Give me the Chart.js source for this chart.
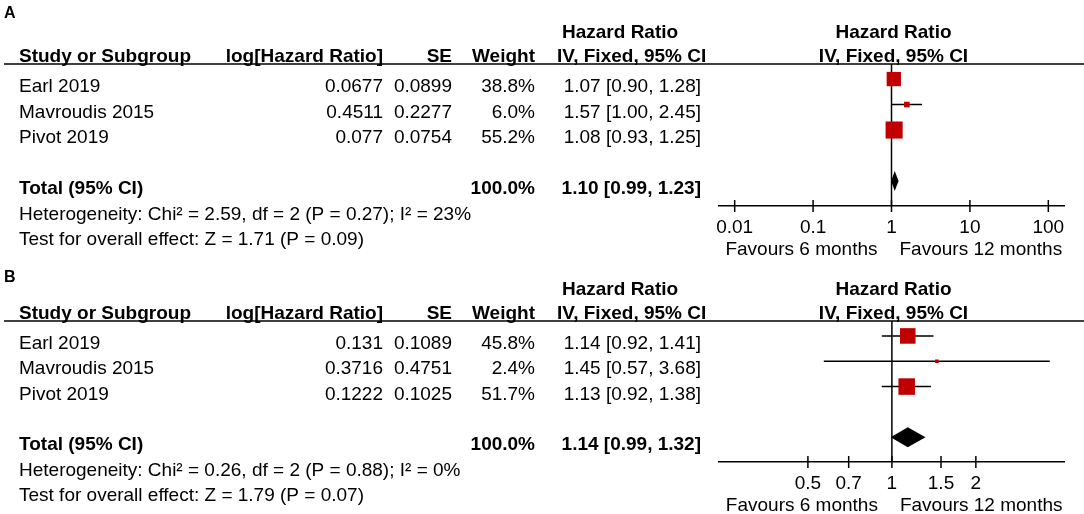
<!DOCTYPE html>
<html>
<head>
<meta charset="utf-8">
<script src="https://cdn.jsdelivr.net/npm/chart.js@4.4.1/dist/chart.umd.min.js"></script>
<style>
  body { margin: 0; background: #fff; }
  canvas { display: block; }
</style>
</head>
<body>
<canvas id="panelA" width="1084" height="257"></canvas>
<canvas id="panelB" width="1084" height="257"></canvas>
<script>
// study rows (shared by both panels)
var studies = ["Earl 2019", "Mavroudis 2015", "Pivot 2019"];
var rows = [1, 2, 3];
var totalRow = 5;

// panel A
var logHrA = [0.0677, 0.4511, 0.077];
var seA = [0.0899, 0.2277, 0.0754];
var weightA = [38.8, 6.0, 55.2];
var hrA = [1.07, 1.57, 1.08];
var loA = [0.90, 1.00, 0.93];
var hiA = [1.28, 2.45, 1.25];
var totalA = [1.10, 0.99, 1.23];
var heteroA = "Heterogeneity: Chi\u00b2 = 2.59, df = 2 (P = 0.27); I\u00b2 = 23%";
var effectA = "Test for overall effect: Z = 1.71 (P = 0.09)";
var ticksA = [0.01, 0.1, 1, 10, 100];

// panel B
var logHrB = [0.131, 0.3716, 0.1222];
var seB = [0.1089, 0.4751, 0.1025];
var weightB = [45.8, 2.4, 51.7];
var hrB = [1.14, 1.45, 1.13];
var loB = [0.92, 0.57, 0.92];
var hiB = [1.41, 3.68, 1.38];
var totalB = [1.14, 0.99, 1.32];
var heteroB = "Heterogeneity: Chi\u00b2 = 0.26, df = 2 (P = 0.88); I\u00b2 = 0%";
var effectB = "Test for overall effect: Z = 1.79 (P = 0.07)";
var ticksB = [0.5, 0.7, 1, 1.5, 2];

var FONT = '"Liberation Sans", Arial, sans-serif';
var RED = '#C00000';

function forestPlugin(p) {
  function text(ctx, s, x, y, align, bold) {
    ctx.font = (bold ? 'bold ' : '') + '19px ' + FONT;
    ctx.textAlign = align;
    ctx.textBaseline = 'alphabetic';
    ctx.fillText(s, x, y);
  }
  return {
    id: 'forest',
    beforeDatasetsDraw: function (chart) {
      var ctx = chart.ctx, a = chart.chartArea, x = chart.scales.x;
      ctx.save();
      ctx.strokeStyle = '#000';
      ctx.lineWidth = 1.5;
      var x1 = x.getPixelForValue(1);
      ctx.beginPath();
      ctx.moveTo(x1, a.top);
      ctx.lineTo(x1, a.bottom);
      ctx.stroke();
      ctx.restore();
    },
    afterDatasetsDraw: function (chart) {
      var ctx = chart.ctx, x = chart.scales.x, y = chart.scales.y;
      var yc = y.getPixelForValue(totalRow);
      ctx.save();
      ctx.fillStyle = '#000';
      ctx.beginPath();
      ctx.moveTo(x.getPixelForValue(p.total[1]), yc);
      ctx.lineTo(x.getPixelForValue(p.total[0]), yc - 10);
      ctx.lineTo(x.getPixelForValue(p.total[2]), yc);
      ctx.lineTo(x.getPixelForValue(p.total[0]), yc + 10);
      ctx.closePath();
      ctx.fill();
      ctx.restore();
    },
    afterDraw: function (chart) {
      var ctx = chart.ctx, a = chart.chartArea, x = chart.scales.x, y = chart.scales.y;
      ctx.save();
      ctx.strokeStyle = '#000';
      ctx.lineWidth = 1.5;
      x.ticks.forEach(function (t) {
        var px = x.getPixelForValue(t.value);
        ctx.beginPath();
        ctx.moveTo(px, a.bottom - 6);
        ctx.lineTo(px, a.bottom + 6);
        ctx.stroke();
      });

      ctx.fillStyle = '#000';
      ctx.font = 'bold 16px ' + FONT;
      ctx.textAlign = 'left';
      ctx.textBaseline = 'alphabetic';
      ctx.fillText(p.label, 4, p.labelY);

      // column headers (drawn before the rule so descenders sit on it)
      var mid = (a.left + a.right) / 2 + 2;
      text(ctx, 'Hazard Ratio', 562, 38, 'left', true);
      text(ctx, 'Hazard Ratio', mid, 38, 'center', true);
      text(ctx, 'Study or Subgroup', 19, 62, 'left', true);
      text(ctx, 'log[Hazard Ratio]', 383, 62, 'right', true);
      text(ctx, 'SE', 452, 62, 'right', true);
      text(ctx, 'Weight', 535, 62, 'right', true);
      text(ctx, 'IV, Fixed, 95% CI', 557, 62, 'left', true);
      text(ctx, 'IV, Fixed, 95% CI', mid, 62, 'center', true);

      ctx.beginPath();
      ctx.moveTo(4, a.top);
      ctx.lineTo(chart.width, a.top);
      ctx.stroke();

      // study rows
      studies.forEach(function (s, i) {
        var ry = y.getPixelForValue(rows[i]) + 13;
        text(ctx, s, 19, ry, 'left');
        text(ctx, String(p.logHr[i]), 383, ry, 'right');
        text(ctx, String(p.se[i]), 452, ry, 'right');
        text(ctx, p.weight[i].toFixed(1) + '%', 535, ry, 'right');
        text(ctx, p.hr[i].toFixed(2) + ' [' + p.lo[i].toFixed(2) + ', ' + p.hi[i].toFixed(2) + ']', 701, ry, 'right');
      });

      var ty = y.getPixelForValue(totalRow) + 13;
      text(ctx, 'Total (95% CI)', 19, ty, 'left', true);
      text(ctx, '100.0%', 535, ty, 'right', true);
      text(ctx, p.total[0].toFixed(2) + ' [' + p.total[1].toFixed(2) + ', ' + p.total[2].toFixed(2) + ']', 701, ty, 'right', true);
      text(ctx, p.hetero, 19, y.getPixelForValue(totalRow + 1) + 13, 'left');
      text(ctx, p.effect, 19, y.getPixelForValue(totalRow + 2) + 13, 'left');

      var x1 = x.getPixelForValue(1);
      text(ctx, 'Favours 6 months', x1 - 14, a.bottom + 49, 'right');
      text(ctx, 'Favours 12 months', x1 + 8, a.bottom + 49, 'left');
      ctx.restore();
    }
  };
}

function makePanel(id, p) {
  var whiskers = [];
  rows.forEach(function (r, i) {
    whiskers.push({ x: p.lo[i], y: r }, { x: p.hi[i], y: r }, { x: p.hi[i], y: null });
  });
  return new Chart(document.getElementById(id), {
    type: 'scatter',
    data: {
      datasets: [
        {
          data: p.hr.map(function (v, i) { return { x: v, y: rows[i] }; }),
          pointStyle: 'rect',
          pointRadius: function (c) { return 2.3 * Math.sqrt(p.weight[c.dataIndex]) / 1.414; },
          backgroundColor: RED,
          borderWidth: 0,
          order: 0
        },
        {
          data: whiskers,
          showLine: true,
          spanGaps: false,
          borderColor: '#000',
          borderWidth: 1.5,
          pointRadius: 0,
          order: 1
        }
      ]
    },
    options: {
      responsive: false,
      animation: false,
      layout: { padding: { left: 719, right: 20, top: 64, bottom: 0 } },
      plugins: { legend: { display: false }, tooltip: { enabled: false } },
      scales: {
        x: {
          type: 'logarithmic',
          min: p.min,
          max: p.max,
          afterBuildTicks: function (s) { s.ticks = p.ticks.map(function (v) { return { value: v }; }); },
          afterFit: function (s) { s.height = p.axisSpace; },
          grid: { display: false },
          border: { display: true, color: '#000', width: 1.5 },
          ticks: {
            autoSkip: false,
            maxRotation: 0,
            padding: 2,
            color: '#000',
            font: { family: FONT, size: 19 },
            callback: function (v) { return String(v); }
          }
        },
        y: { type: 'linear', min: 0.41, max: 5.98, reverse: true, display: false }
      }
    },
    plugins: [forestPlugin(p)]
  });
}

makePanel('panelA', {
  label: 'A', labelY: 18,
  logHr: logHrA, se: seA, weight: weightA, hr: hrA, lo: loA, hi: hiA, total: totalA,
  hetero: heteroA, effect: effectA, ticks: ticksA,
  min: Math.pow(10, -2.2), max: Math.pow(10, 2.2), axisSpace: 51
});
makePanel('panelB', {
  label: 'B', labelY: 25,
  logHr: logHrB, se: seB, weight: weightB, hr: hrB, lo: loB, hi: hiB, total: totalB,
  hetero: heteroB, effect: effectB, ticks: ticksB,
  min: 0.24, max: 4.14, axisSpace: 52
});
</script>
</body>
</html>
